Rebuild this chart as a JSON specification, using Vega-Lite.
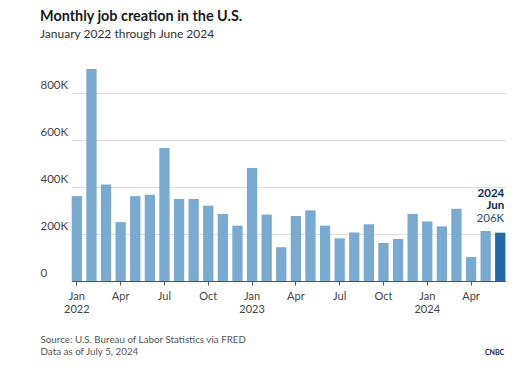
{
  "$schema": "https://vega.github.io/schema/vega-lite/v6.json",
  "width": 467,
  "height": 212,
  "autosize": {"type": "none"},
  "padding": {"left": 40, "top": 69, "right": 23, "bottom": 93},
  "background": "white",
  "config": {"view": {"stroke": null}, "font": "Lato"},
  "title": {
    "text": "Monthly job creation in the U.S.",
    "subtitle": "January 2022 through June 2024",
    "anchor": "start",
    "frame": "group",
    "fontSize": 14.4,
    "fontWeight": "bold",
    "color": "#1a1a1a",
    "subtitleFontSize": 12,
    "subtitleColor": "#333333",
    "subtitlePadding": 5,
    "offset": 28
  },
  "data": {
    "values": [
      {"date": "2022-01", "jobs": 362},
      {"date": "2022-02", "jobs": 904},
      {"date": "2022-03", "jobs": 412},
      {"date": "2022-04", "jobs": 251},
      {"date": "2022-05", "jobs": 362},
      {"date": "2022-06", "jobs": 368},
      {"date": "2022-07", "jobs": 567},
      {"date": "2022-08", "jobs": 350},
      {"date": "2022-09", "jobs": 350},
      {"date": "2022-10", "jobs": 321},
      {"date": "2022-11", "jobs": 286},
      {"date": "2022-12", "jobs": 236},
      {"date": "2023-01", "jobs": 482},
      {"date": "2023-02", "jobs": 283},
      {"date": "2023-03", "jobs": 144},
      {"date": "2023-04", "jobs": 277},
      {"date": "2023-05", "jobs": 301},
      {"date": "2023-06", "jobs": 236},
      {"date": "2023-07", "jobs": 182},
      {"date": "2023-08", "jobs": 207},
      {"date": "2023-09", "jobs": 242},
      {"date": "2023-10", "jobs": 162},
      {"date": "2023-11", "jobs": 179},
      {"date": "2023-12", "jobs": 286},
      {"date": "2024-01", "jobs": 254},
      {"date": "2024-02", "jobs": 233},
      {"date": "2024-03", "jobs": 308},
      {"date": "2024-04", "jobs": 102},
      {"date": "2024-05", "jobs": 213},
      {"date": "2024-06", "jobs": 206}
    ]
  },
  "encoding": {
    "x": {
      "field": "date",
      "type": "ordinal",
      "scale": {"range": [31.7, 465.4], "paddingInner": 0.295, "paddingOuter": 0},
      "axis": {
        "values": ["2022-01", "2022-04", "2022-07", "2022-10", "2023-01", "2023-04", "2023-07", "2023-10", "2024-01", "2024-04"],
        "labelExpr": "slice(datum.value,5,7) == '01' ? ['Jan', slice(datum.value,0,4)] : (slice(datum.value,5,7) == '04' ? 'Apr' : (slice(datum.value,5,7) == '07' ? 'Jul' : 'Oct'))",
        "labelAngle": 0,
        "labelFontSize": 11,
        "labelColor": "#444444",
        "labelPadding": 5,
        "labelLineHeight": 13,
        "tickSize": 4,
        "tickColor": "#555555",
        "domainColor": "#555555",
        "domainWidth": 1,
        "grid": false,
        "title": ["Source: U.S. Bureau of Labor Statistics via FRED", "Data as of July 5, 2024"],
        "titleX": 0,
        "titleY": 61,
        "titleAlign": "left",
        "titleAnchor": "start",
        "titleBaseline": "alphabetic",
        "titleFontWeight": "normal",
        "titleFontSize": 9.8,
        "titleLineHeight": 12,
        "titleColor": "#555555"
      }
    },
    "y": {
      "field": "jobs",
      "type": "quantitative",
      "scale": {"domain": [0, 904], "nice": false},
      "axis": {
        "values": [0, 200, 400, 600, 800],
        "labelExpr": "datum.value == 0 ? '0' : datum.value + 'K'",
        "domain": false,
        "ticks": false,
        "tickSize": 0,
        "labelAlign": "left",
        "labelBaseline": "alphabetic",
        "labelPadding": 0,
        "labelOffset": -5,
        "labelFontSize": 11.5,
        "labelColor": "#444444",
        "grid": true,
        "gridColor": "#dddddd",
        "title": "CNBC",
        "titleAngle": 0,
        "titleX": 454,
        "titleY": 285,
        "titleAlign": "center",
        "titleBaseline": "alphabetic",
        "titleFontSize": 7,
        "titleFontWeight": "bold",
        "titleColor": "#1b1b2f"
      }
    }
  },
  "layer": [
    {
      "mark": {"type": "bar"},
      "encoding": {
        "color": {
          "condition": {"test": "datum.date == '2024-06'", "value": "#2369a6"},
          "value": "#7aaad0"
        }
      }
    },
    {
      "transform": [
        {"filter": "datum.date == '2024-06'"},
        {"calculate": "slice(datum.date,0,4)", "as": "yr"}
      ],
      "mark": {"type": "text", "align": "right", "baseline": "alphabetic", "dx": 4, "dy": -35.5, "fontSize": 11.5, "fontWeight": "bold", "color": "#0e2a52"},
      "encoding": {"text": {"field": "yr"}}
    },
    {
      "transform": [
        {"filter": "datum.date == '2024-06'"},
        {"calculate": "'Jun'", "as": "mo"}
      ],
      "mark": {"type": "text", "align": "right", "baseline": "alphabetic", "dx": 4, "dy": -23.5, "fontSize": 11.5, "fontWeight": "bold", "color": "#0e2a52"},
      "encoding": {"text": {"field": "mo"}}
    },
    {
      "transform": [
        {"filter": "datum.date == '2024-06'"},
        {"calculate": "datum.jobs + 'K'", "as": "lbl"}
      ],
      "mark": {"type": "text", "align": "right", "baseline": "alphabetic", "dx": 4, "dy": -11, "fontSize": 11.5, "color": "#1d4f80"},
      "encoding": {"text": {"field": "lbl"}}
    }
  ]
}
